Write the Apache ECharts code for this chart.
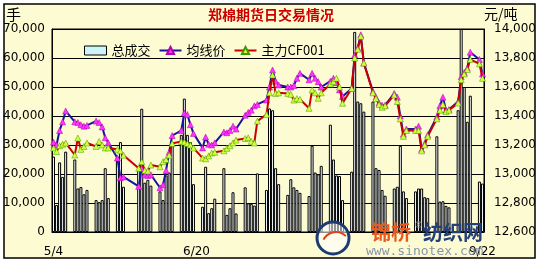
<!DOCTYPE html>
<html><head><meta charset="utf-8">
<script src="https://cdn.jsdelivr.net/npm/echarts@6/dist/echarts.min.js"></script>
<style>html,body{margin:0;padding:0;background:#fff}#c{width:542px;height:264px}</style>
</head><body><div id="c"></div>
<script>
// trading days (2009)
const tradeDates = [
 '5/4','5/5','5/6','5/7','5/8','5/11','5/12','5/13','5/14','5/15','5/18','5/19','5/20','5/21','5/22','5/25','5/26','5/27',
 '6/1','6/2','6/3','6/4','6/5','6/8','6/9','6/10','6/11','6/12','6/15','6/16','6/17','6/18','6/19','6/22','6/23','6/24','6/25','6/26','6/29','6/30',
 '7/1','7/2','7/3','7/6','7/7','7/8','7/9','7/10','7/13','7/14','7/15','7/16','7/17','7/20','7/21','7/22','7/23','7/24','7/27','7/28','7/29','7/30','7/31',
 '8/3','8/4','8/5','8/6','8/7','8/10','8/11','8/12','8/13','8/14','8/17','8/18','8/19','8/20','8/21','8/24','8/25','8/26','8/27','8/28','8/31',
 '9/1','9/2','9/3','9/4','9/7','9/8','9/9','9/10','9/11','9/14','9/15','9/16','9/17','9/18','9/21','9/22'
];
// 总成交 (手)
const volume = [
 26000,9300,24000,19000,27700, 25000,15000,15500,13000,14500, 11000,10300,11000,22000,11700, 26000,31000,15600,
 22500,42500,17000,18000,16000, 14000,11000,19500,20500,30000, 33500,46000,33500,31000,16500, 8700,22500,6500,8200,11500, 22000,5900,
 8200,13700,6400, 15400,9900,9700,9100,20200, 14500,42600,42000,22000,16500, 12800,18200,15400,14500,13500, 12400,29700,20500,19900,22800,
 37000,25000,19500,19300,11000, 20800,69000,45000,44400,41500, 45000,22000,21400,14500,12500, 15000,15600,29700,14000,11700, 14000,
 15000,15000,12000,11700, 33000,10500,10600,9000,8500, 42000,70000,50000,38000,47000, 17400,16700
];
// 均线价 (元/吨)
const avgPrice = [
 13220,13200,13300,13360,13435, 13360,13355,13340,13330,13335, 13365,13355,13325,13250,13215, 13110,12975,12980,
 12915,13040,12995,12990,12995, 12905,12925,13025,13150,13265, 13300,13420,13410,13340,13280, 13180,13255,13205,13200,13215, 13290,13285,
 13300,13330,13310, 13405,13425,13440,13470,13480, 13510,13600,13717,13640,13614, 13600,13600,13610,13660,13694, 13650,13694,13660,13637,13600,
 13640,13660,13630,13580,13535, 13590,13820,13870,13960,13765, 13570,13530,13490,13475,13475, 13556,13530,13400,13275,13310, 13310,
 13330,13170,13210,13270, 13395,13470,13530,13440,13445, 13500,13670,13700,13730,13840, 13790,13690
];
// 主力CF001 (元/吨)
const mainPrice = [
 13180,13155,13195,13205,13214, 13131,13248,13170,13190,13214, 13190,13225,13200,13180,13180, 13170,13160,13130,
 13040,13085,13025,13020,13062, 13050,13085,13100,13130,13210, 13225,13220,13210,13200,13180, 13110,13105,13125,13145,13150, 13160,13177,
 13195,13214,13234, 13245,13250,13225,13214,13365, 13410,13560,13683,13556,13560, 13556,13550,13510,13520,13515, 13453,13580,13560,13522,13560,
 13620,13637,13660,13600,13488, 13590,13800,13860,13950,13765, 13560,13520,13480,13460,13470, 13545,13500,13380,13260,13300, 13300,
 13300,13160,13200,13260, 13380,13440,13480,13430,13440, 13490,13650,13690,13720,13790, 13760,13660
];
const shownLabels = ['5/4','6/20','9/22'];
const leftTicks = {min:0, max:70000, interval:10000};
const rightTicks = {min:12600, max:14000, interval:200};

// calendar axis 5/4 .. 9/22
const days = [];
for (let d = new Date(2009,4,4); d <= new Date(2009,8,22); d.setDate(d.getDate()+1)) {
  days.push((d.getMonth()+1)+'/'+d.getDate());
}
const pos = {}; tradeDates.forEach((d,i)=>pos[d]=i);
const pick = arr => days.map(d => (d in pos) ? arr[pos[d]] : null);

const chart = echarts.init(document.getElementById('c'), null, {renderer:'canvas'});
const numFont = 'DejaVu Sans';
const cjk = 'Noto Sans CJK SC';
chart.setOption({
  animation:false,
  backgroundColor:'#ffffff',
  grid:{left:50,right:58,top:29,bottom:32,show:true,borderColor:'#000',borderWidth:1,backgroundColor:'transparent'},
  legend:{
    left:79, top:39, itemWidth:22, itemHeight:9, itemGap:8,
    textStyle:{fontSize:13,fontFamily:cjk,color:'#000'},
    data:[
      {name:'总成交', icon:'rect', itemStyle:{color:'#cdf3fb',borderColor:'#000',borderWidth:1}},
      {name:'均线价'},
      {name:'主力CF001'}
    ]
  },
  xAxis:{
    type:'category', data:days, boundaryGap:true,
    axisTick:{show:false},
    axisLine:{lineStyle:{color:'#000',width:1}},
    axisLabel:{interval:(i,v)=>shownLabels.includes(v), color:'#000', fontSize:12, fontFamily:numFont, margin:14},
    splitLine:{show:false}
  },
  yAxis:[
    {type:'value', ...leftTicks, position:'left',
     axisLine:{show:true,lineStyle:{color:'#000'}}, axisTick:{show:false},
     axisLabel:{color:'#000',fontSize:12,fontFamily:numFont,margin:7},
     splitLine:{show:true,lineStyle:{color:'#000',width:1}}},
    {type:'value', ...rightTicks, position:'right',
     axisLine:{show:true,lineStyle:{color:'#000'}}, axisTick:{show:false},
     axisLabel:{color:'#000',fontSize:12,fontFamily:numFont,margin:10},
     splitLine:{show:false}}
  ],
  series:[
    {name:'总成交', type:'bar', yAxisIndex:0, data:pick(volume), barWidth:3,
     itemStyle:{color:'#f4fbff',borderColor:'#000',borderWidth:1}, z:1},
    {name:'均线价', type:'line', yAxisIndex:1, data:pick(avgPrice), connectNulls:true,
     showAllSymbol:true, symbol:'triangle', symbolSize:6,
     lineStyle:{color:'#1414a0',width:2},
     itemStyle:{color:'#ff33ff',borderColor:'#b000b0',borderWidth:0.5}, z:3},
    {name:'主力CF001', type:'line', yAxisIndex:1, data:pick(mainPrice), connectNulls:true,
     showAllSymbol:true, symbol:'triangle', symbolSize:6,
     lineStyle:{color:'#c80000',width:2},
     itemStyle:{color:'#d4ff3a',borderColor:'#3a9a00',borderWidth:0.5}, z:4}
  ],
  graphic:[
    {type:'rect', z:-100, shape:{x:4,y:4,width:531,height:254}, style:{fill:'#fdfbd2',stroke:'#000',lineWidth:1.5}, silent:true},
    {type:'text', x:271, y:15, style:{text:'郑棉期货日交易情况', fill:'#cc0000', font:'bold 14px "Noto Sans CJK SC"', textAlign:'center', textVerticalAlign:'middle'}},
    {type:'text', x:6, y:14, style:{text:'手', fill:'#000', font:'15px "Noto Sans CJK SC"', textAlign:'left', textVerticalAlign:'middle'}},
    {type:'text', x:484, y:14, style:{text:'元/吨', fill:'#000', font:'14px "Noto Sans CJK SC"', textAlign:'left', textVerticalAlign:'middle'}},
    // watermark
    {type:'circle', shape:{cx:333,cy:238,r:16}, style:{fill:'rgba(255,255,255,0.55)',stroke:'#1d3a72',lineWidth:3}, z:50},
    {type:'arc', shape:{cx:336,cy:246,r:14,startAngle:Math.PI*1.15,endAngle:Math.PI*1.75}, style:{stroke:'#e0401a',lineWidth:2,fill:null}, z:51},
    {type:'text', x:371, y:232, z:50, style:{text:'锦桥', fill:'#ea5a1e', font:'bold 20px "Noto Sans CJK SC"', textVerticalAlign:'middle'}},
    {type:'text', x:414, y:226, z:50, style:{text:'®', fill:'#888', font:'9px "DejaVu Sans"', textVerticalAlign:'middle'}},
    {type:'text', x:423, y:232, z:50, style:{text:'纺织网', fill:'#24407a', font:'bold 20px "Noto Sans CJK SC"', textVerticalAlign:'middle'}},
    {type:'text', x:366, y:252, z:50, style:{text:'www.sinotex.com', fill:'#8a96a8', font:'13px "DejaVu Sans Mono"', textVerticalAlign:'middle'}}
  ]
});
</script></body></html>
